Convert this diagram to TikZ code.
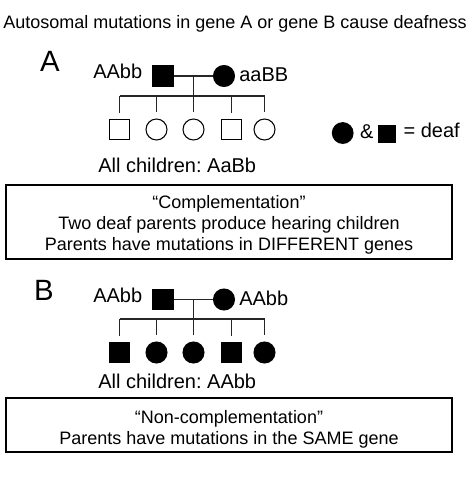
\documentclass[tikz,border=0pt]{standalone}
\usepackage{fontspec}
\setmainfont{Liberation Sans}
\frenchspacing
\usetikzlibrary{positioning,calc,shadows}

\begin{document}
\begin{tikzpicture}[
        x=0.75pt, y=-0.75pt,
        male/.style={draw, rectangle, minimum size=15pt, inner sep=0pt, line width=0.8pt},
        female/.style={draw, circle, minimum size=15.75pt, inner sep=0pt, line width=0.8pt},
        deaf/.style={fill=black},
        kin/.style={draw, line width=0.8pt, black!85},
        drop/.style={kin, shorten >=4.5pt},
        geno/.style={inner sep=0pt, font=\fontsize{15}{18}\selectfont},
        panel/.style={inner sep=0pt, font=\fontsize{22}{26}\selectfont},
        legshadow/.style={drop shadow={shadow xshift=0.3pt, shadow yshift=-0.7pt, opacity=0.35}},
        infobox/.style={draw, line width=1.5pt, minimum width=334.5pt, align=center, font=\fontsize{13.5}{15.75}\selectfont}
    ]
        \useasboundingbox (0,0) rectangle (474,478);

        % Title
        \node (title) [inner sep=0pt, anchor=base, font=\fontsize{13.5}{16}\selectfont] at (235,29) {Autosomal mutations in gene A or gene B cause deafness};

        % Pedigree A: parents
        \node (labA) [panel, anchor=base] at (50,72) {A};
        \node (fa) [male, deaf] at (163,76) {};
        \node (ma) [female, deaf] at (224,76) {};
        \node (gfa) [geno, anchor=base east] at (142.5,78.5) {AAbb};
        \node (gma) [geno, anchor=base west] at (239,81) {aaBB};
        \coordinate (ja) at ($(fa)!0.5!(ma)$);
        \coordinate (sa) at (193.5,96);

        % Pedigree A: children (hearing)
        \node (a1) [male] at (119.5,129.5) {};
        \node (a2) [female] at (156.5,129.5) {};
        \node (a3) [female] at (193.5,129.5) {};
        \node (a4) [male] at (231.5,129.5) {};
        \node (a5) [female] at (264.5,129.5) {};
        \node (kidsA) [geno, anchor=base west] at (98,172) {All children: AaBb};

        % Legend
        \node (lc) [female, deaf, minimum size=15.5pt, legshadow] at (342.7,133) {};
        \node (amp) [geno, anchor=base] at (366.7,138) {\&};
        \node (ls) [male, deaf, minimum size=13pt, legshadow] at (386.7,133.7) {};
        \node (leq) [geno, anchor=base west] at (403.3,137.3) {= deaf};

        % Box A
        \node (boxa) [infobox, minimum height=55.5pt] at (229,222) {\rule{0pt}{13.8pt}“Complementation”\\Two deaf parents produce hearing children\\Parents have mutations in DIFFERENT genes};

        % Pedigree B: parents
        \node (labB) [panel, anchor=base] at (44,300) {B};
        \node (fb) [male, deaf] at (163,299.5) {};
        \node (mb) [female, deaf] at (224,299.5) {};
        \node (gfb) [geno, anchor=base east] at (142.5,302.5) {AAbb};
        \node (gmb) [geno, anchor=base west] at (239,305.5) {AAbb};
        \coordinate (jb) at ($(fb)!0.5!(mb)$);
        \coordinate (sb) at (193.5,319);

        % Pedigree B: children (deaf)
        \node (b1) [male, deaf] at (119.5,352.5) {};
        \node (b2) [female, deaf] at (156.5,352.5) {};
        \node (b3) [female, deaf] at (193.5,352.5) {};
        \node (b4) [male, deaf] at (231.5,352.5) {};
        \node (b5) [female, deaf] at (264.5,352.5) {};
        \node (kidsB) [geno, anchor=base west] at (98,388.5) {All children: AAbb};

        % Box B
        \node (boxb) [infobox, minimum height=40.5pt] at (229,425) {\rule{0pt}{15.6pt}“Non-complementation”\\Parents have mutations in the SAME gene};

        % Connections A
        \draw [kin] (fa) -- (ma);
        \draw [kin] (ja) -- (sa);
        \draw [kin] (a1 |- sa) -- (a5 |- sa);
        \draw [drop] (a1 |- sa) -- (a1);
        \draw [drop] (a2 |- sa) -- (a2);
        \draw [drop] (a3 |- sa) -- (a3);
        \draw [drop] (a4 |- sa) -- (a4);
        \draw [drop] (a5 |- sa) -- (a5);

        % Connections B
        \draw [kin] (fb) -- (mb);
        \draw [kin] (jb) -- (sb);
        \draw [kin] (b1 |- sb) -- (b5 |- sb);
        \draw [drop] (b1 |- sb) -- (b1);
        \draw [drop] (b2 |- sb) -- (b2);
        \draw [drop] (b3 |- sb) -- (b3);
        \draw [drop] (b4 |- sb) -- (b4);
        \draw [drop] (b5 |- sb) -- (b5);

    \end{tikzpicture}
\end{document}
